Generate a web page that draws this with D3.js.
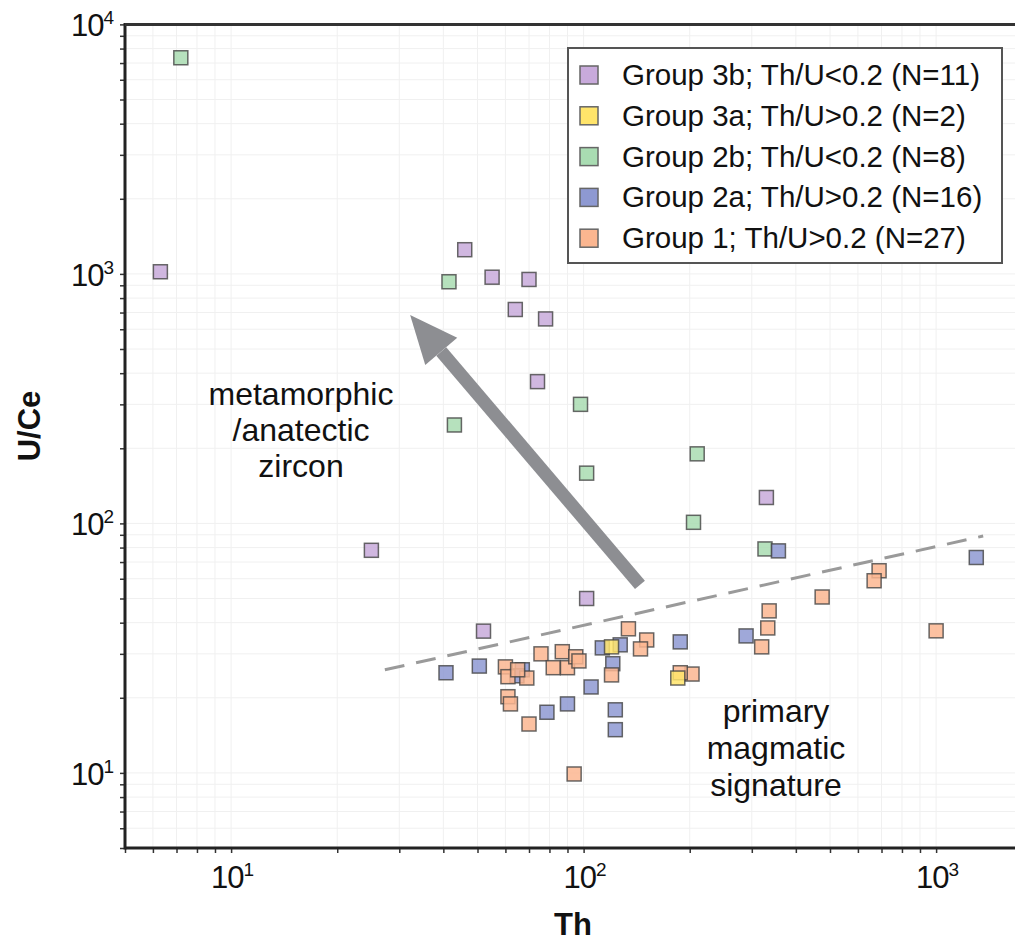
<!DOCTYPE html>
<html>
<head>
<meta charset="utf-8">
<script src="https://cdn.jsdelivr.net/npm/d3@7"></script>
<style>
  html, body { margin: 0; padding: 0; background: #fff; }
  svg { display: block; font-family: Arial, "Liberation Sans", Helvetica, sans-serif; }
</style>
</head>
<body>
<svg id="chart" width="1015" height="942"></svg>
<script>
// ---- data (Th, U/Ce) ----
const group3b = [[6.3,1020],[46,1250],[55,970],[70,950],[64,720],[78,660],[74,370],[25,78],[102,50],[52,37],[330,127]];
const group3a = [[120,32],[185,24]];
const group2b = [[7.2,7350],[41.5,930],[43,248],[98,300],[102,159],[210,190],[205,101],[327,79]];
const group2a = [[357,77.6],[1300,73],[289,35.4],[188,33.5],[40.7,25.2],[50.6,26.8],[67,25.9],[64.7,24.5],[78.7,17.5],[90,18.9],[105,22.1],[123,17.9],[123,14.9],[121,27.4],[113,31.7],[127,32.6]];
const group1 = [[689,64.6],[667,58.9],[475,50.7],[336,44.6],[333,38.1],[1000,37.1],[320,32],[134,37.8],[151,34.1],[145,31.4],[120,24.7],[203,24.9],[188,25.2],[94,9.9],[75.7,30],[87,30.6],[82,26.4],[90,26.4],[60,26.6],[61,24.3],[69,24.0],[65,25.9],[61,20.2],[62,18.9],[70,15.7],[95,29.2],[97,28.1]];

const legendLabels = ["Group 3b; Th/U<0.2 (N=11)","Group 3a; Th/U>0.2 (N=2)","Group 2b; Th/U<0.2 (N=8)","Group 2a; Th/U>0.2 (N=16)","Group 1; Th/U>0.2 (N=27)"];
const legendColors = ["#c8aadb","#ffe46a","#a9dcb2","#8e99d2","#fbb690"];

const xDomain = [5, 2000];
const yDomain = [5, 10000];
const xMajor = [10, 100, 1000];
const yMajor = [10, 100, 1000, 10000];
const xTickLabels = ["1","2","3"];
const yTickLabels = ["1","2","3","4"];

// reference line (Th, U/Ce)
const dashLine = [[27.3,25.9],[1360,89]];
// arrow (tail, tip)
const arrowPts = [[144.5,56.7],[32.2,685]];

// ---- layout ----
const svg = d3.select("#chart");
const L = 125, B = 848;
const x = d3.scaleLog().domain(xDomain).range([L, L + 352.5 * Math.log10(xDomain[1]/xDomain[0])]);
const y = d3.scaleLog().domain(yDomain).range([B, B - 249.5 * Math.log10(yDomain[1]/yDomain[0])]);
const R = x.range()[1], T = y.range()[1];

function minorTicks(domain) {
  const out = [];
  for (let e = -1; e <= 5; e++) {
    for (let m = 1; m <= 9; m++) {
      const v = m * Math.pow(10, e);
      if (v >= domain[0] - 1e-9 && v <= domain[1] + 1e-9) out.push(v);
    }
  }
  return out;
}
const xt = minorTicks(xDomain), yt = minorTicks(yDomain);

// grid
const grid = svg.append("g").attr("stroke", "#f0f0f0").attr("stroke-width", 1);
grid.selectAll("line.gx").data(xt).join("line")
  .attr("x1", d => x(d)).attr("x2", d => x(d)).attr("y1", T).attr("y2", B);
grid.selectAll("line.gy").data(yt).join("line")
  .attr("x1", L).attr("x2", R).attr("y1", d => y(d)).attr("y2", d => y(d));

// axes ticks
const xAxis = svg.append("g").attr("transform", `translate(0,${B})`)
  .call(d3.axisBottom(x).tickValues(xt).tickSize(5).tickFormat(""));
const yAxis = svg.append("g").attr("transform", `translate(${L},0)`)
  .call(d3.axisLeft(y).tickValues(yt).tickSize(5).tickFormat(""));
[xAxis, yAxis].forEach(a => {
  a.select(".domain").remove();
  a.selectAll(".tick line").attr("stroke", "#333").attr("stroke-width", 1.5);
});

// frame
svg.append("line").attr("x1", L).attr("x2", L).attr("y1", T - 1.5).attr("y2", B + 1.5).attr("stroke", "#222").attr("stroke-width", 3);
svg.append("line").attr("x1", L).attr("x2", R).attr("y1", B).attr("y2", B).attr("stroke", "#222").attr("stroke-width", 3);
svg.append("line").attr("x1", L).attr("x2", R).attr("y1", T).attr("y2", T).attr("stroke", "#333").attr("stroke-width", 3);
svg.append("line").attr("x1", R).attr("x2", R).attr("y1", T).attr("y2", B).attr("stroke", "#333").attr("stroke-width", 3);

// tick labels
const xl = svg.append("g").attr("fill", "#111").attr("font-size", 31);
xMajor.forEach((v, i) => {
  const t = xl.append("text").attr("x", x(v) + 1).attr("y", 888).attr("text-anchor", "middle").attr("letter-spacing", -1);
  t.append("tspan").text("10");
  t.append("tspan").attr("font-size", 19).attr("dy", -12).text(xTickLabels[i]);
});
const yl = svg.append("g").attr("fill", "#111").attr("font-size", 31);
yMajor.forEach((v, i) => {
  const t = yl.append("text").attr("x", 113).attr("y", y(v) + 12).attr("text-anchor", "end").attr("letter-spacing", -1);
  t.append("tspan").text("10");
  t.append("tspan").attr("font-size", 19).attr("dy", -12).text(yTickLabels[i]);
});

// axis titles
svg.append("text").attr("x", 573).attr("y", 935).attr("text-anchor", "middle")
  .attr("font-weight", "bold").attr("font-size", 31).attr("fill", "#111").text("Th");
svg.append("text").attr("transform", `translate(40,426) rotate(-90)`).attr("text-anchor", "middle")
  .attr("font-weight", "bold").attr("font-size", 31).attr("fill", "#111").text("U/Ce");

// dashed line
svg.append("line")
  .attr("x1", x(dashLine[0][0])).attr("y1", y(dashLine[0][1]))
  .attr("x2", x(dashLine[1][0])).attr("y2", y(dashLine[1][1]))
  .attr("stroke", "#9a9a9a").attr("stroke-width", 3).attr("stroke-dasharray", "20,12");

// arrow
(function () {
  const x1 = x(arrowPts[0][0]), y1 = y(arrowPts[0][1]);
  const x2 = x(arrowPts[1][0]), y2 = y(arrowPts[1][1]);
  const ang = Math.atan2(y2 - y1, x2 - x1);
  const headLen = 48, headW = 42;
  const bx = x2 - headLen * Math.cos(ang), by = y2 - headLen * Math.sin(ang);
  svg.append("line").attr("x1", x1).attr("y1", y1).attr("x2", bx).attr("y2", by)
    .attr("stroke", "#8d8e92").attr("stroke-width", 13);
  const px = -Math.sin(ang), py = Math.cos(ang);
  svg.append("polygon").attr("points", [[x2, y2], [bx + px * headW / 2, by + py * headW / 2], [bx - px * headW / 2, by - py * headW / 2]].map(p => p.join(",")).join(" "))
    .attr("fill", "#8d8e92");
})();

// annotations
const ann1 = svg.append("text").attr("font-size", 32).attr("fill", "#111").attr("text-anchor", "middle");
["metamorphic", "/anatectic", "zircon"].forEach((s, i) => ann1.append("tspan").attr("x", 301).attr("y", 405 + i * 36).text(s));
const ann2 = svg.append("text").attr("font-size", 32).attr("fill", "#111").attr("text-anchor", "middle");
["primary", "magmatic", "signature"].forEach((s, i) => ann2.append("tspan").attr("x", 776).attr("y", 722 + i * 37).text(s));

// points
const sz = 14;
const groups = [
  { data: group2b, color: legendColors[2] },
  { data: group2a, color: legendColors[3] },
  { data: group1, color: legendColors[4] },
  { data: group3a, color: legendColors[1] },
  { data: group3b, color: legendColors[0] }
];
groups.forEach(g => {
  svg.append("g").selectAll("rect").data(g.data).join("rect")
    .attr("x", d => x(d[0]) - sz / 2).attr("y", d => y(d[1]) - sz / 2)
    .attr("width", sz).attr("height", sz)
    .attr("fill", g.color).attr("fill-opacity", 0.85)
    .attr("stroke", "#444").attr("stroke-opacity", 0.8).attr("stroke-width", 1.5);
});

// legend
const lg = svg.append("g");
lg.append("rect").attr("x", 568).attr("y", 48).attr("width", 434).attr("height", 215)
  .attr("fill", "#fff").attr("stroke", "#555").attr("stroke-width", 2);
legendLabels.forEach((s, i) => {
  const cy = 75 + i * 40.8;
  lg.append("rect").attr("x", 580).attr("y", cy - 9).attr("width", 18).attr("height", 18)
    .attr("fill", legendColors[i]).attr("stroke", "#666").attr("stroke-width", 1.5);
  lg.append("text").attr("x", 622).attr("y", cy + 10).attr("font-size", 29.5).attr("fill", "#111").text(s);
});
</script>
</body>
</html>
